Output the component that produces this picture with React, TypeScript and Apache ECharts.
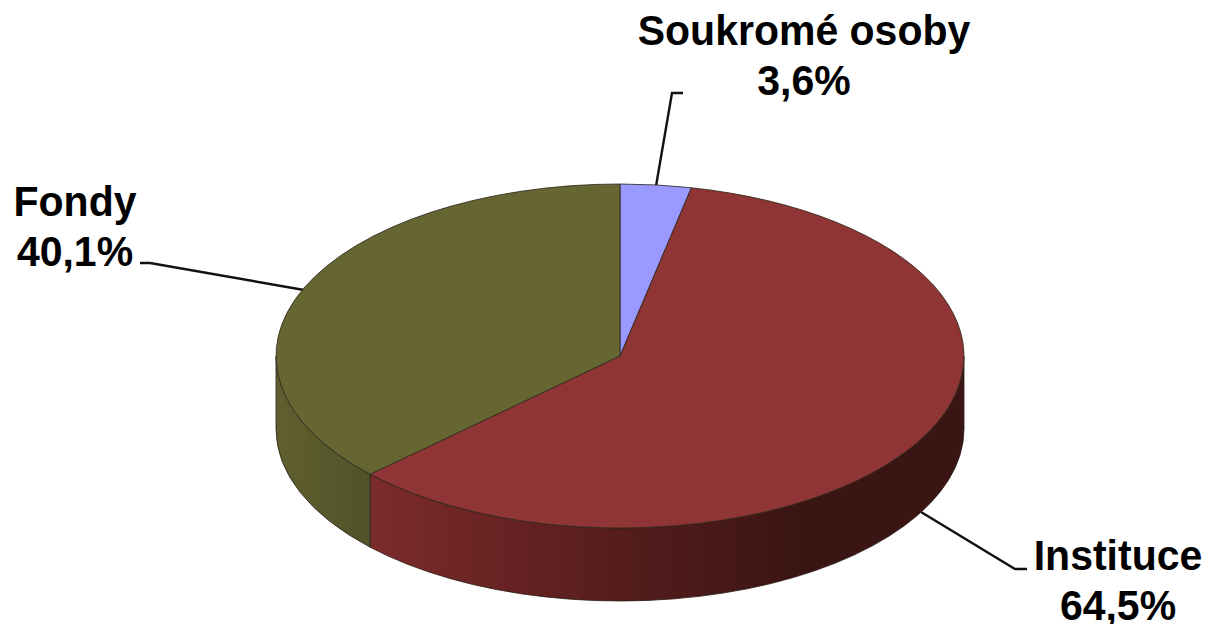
import React, { useEffect, useRef } from "react";
import * as echarts from "echarts";

const categories = ["Soukromé osoby", "Instituce", "Fondy"];
const values = [3.6, 64.5, 40.1];
const topColors = ["#9999ff", "#8f3535", "#666633"];
const sideStops = [
  [{ offset: 0, color: "#9999ff" }, { offset: 1, color: "#9999ff" }],
  [
    { offset: 0, color: "#7c2b2b" },
    { offset: 0.45, color: "#5a1e1e" },
    { offset: 0.88, color: "#3a1513" },
    { offset: 1, color: "#3a1513" },
  ],
  [{ offset: 0, color: "#605f30" }, { offset: 1, color: "#505228" }],
];
const sideRanges = [
  [620, 690],
  [370, 860],
  [276, 370],
];
const labelAnchors = [
  [804, 5],
  [1118, 530],
  [75, 176],
];
const leaders = [
  [[683, 93], [672, 93], [656, 186]],
  [[921, 512], [1015, 569], [1027, 569]],
  [[140, 263], [150, 263], [304, 290]],
];

const cx = 620;
const cy = 356;
const rx = 344;
const ry = 172;
const depth = 73;
const total = values.reduce((a, b) => a + b, 0);
const pt = (deg: number, dy = 0) => {
  const r = (deg * Math.PI) / 180;
  return `${cx + rx * Math.sin(r)} ${cy - ry * Math.cos(r) + dy}`;
};

const renderItem = (params: any, api: any) => {
  const i = params.dataIndex;
  const before = values.slice(0, i).reduce((a, b) => a + b, 0);
  const a0 = (before / total) * 360;
  const a1 = a0 + (api.value(0) / total) * 360;
  const children: any[] = [];
  const s = Math.max(a0, 90);
  const e = Math.min(a1, 270);
  if (e > s) {
    const [x0, x1] = sideRanges[i];
    children.push({
      type: "path",
      shape: {
        pathData: `M ${pt(s)} A ${rx} ${ry} 0 0 1 ${pt(e)} L ${pt(e, depth)} A ${rx} ${ry} 0 0 0 ${pt(s, depth)} Z`,
      },
      style: {
        fill: new echarts.graphic.LinearGradient(x0, 0, x1, 0, sideStops[i], true),
        stroke: "#2b1f17",
        lineWidth: 0.8,
      },
    });
  }
  const large = a1 - a0 > 180 ? 1 : 0;
  children.push({
    type: "path",
    shape: {
      pathData: `M ${cx} ${cy} L ${pt(a0)} A ${rx} ${ry} 0 ${large} 1 ${pt(a1)} Z`,
    },
    style: { fill: topColors[i], stroke: "#2b2418", lineWidth: 0.8 },
  });
  return { type: "group", children };
};

export default function App() {
  const ref = useRef<HTMLDivElement>(null);
  useEffect(() => {
    const chart = echarts.init(ref.current!, undefined, { renderer: "svg" });
    chart.setOption({
      animation: false,
      backgroundColor: "#ffffff",
      series: [
        {
          type: "custom",
          coordinateSystem: "none",
          silent: true,
          renderItem,
          data: values.map((v, i) => ({ name: categories[i], value: [v] })),
        },
      ],
      graphic: [
        ...leaders.map((points) => ({
          type: "polyline",
          shape: { points },
          style: { stroke: "#111111", lineWidth: 2.4, fill: "none" },
        })),
        ...categories.map((name, i) => ({
          type: "text",
          x: labelAnchors[i][0],
          y: labelAnchors[i][1],
          scaleY: 1.06,
          style: {
            text: `${name}\n${values[i].toFixed(1).replace(".", ",")}%`,
            fontFamily: "Liberation Sans",
            fontWeight: "bold",
            fontSize: 41,
            lineHeight: 47,
            fill: "#000000",
            align: "center",
            verticalAlign: "top",
          },
        })),
      ],
    });
    return () => chart.dispose();
  }, []);
  return (
    <div
      ref={ref}
      style={{ position: "absolute", left: 0, top: 0, width: 1206, height: 624 }}
    />
  );
}
